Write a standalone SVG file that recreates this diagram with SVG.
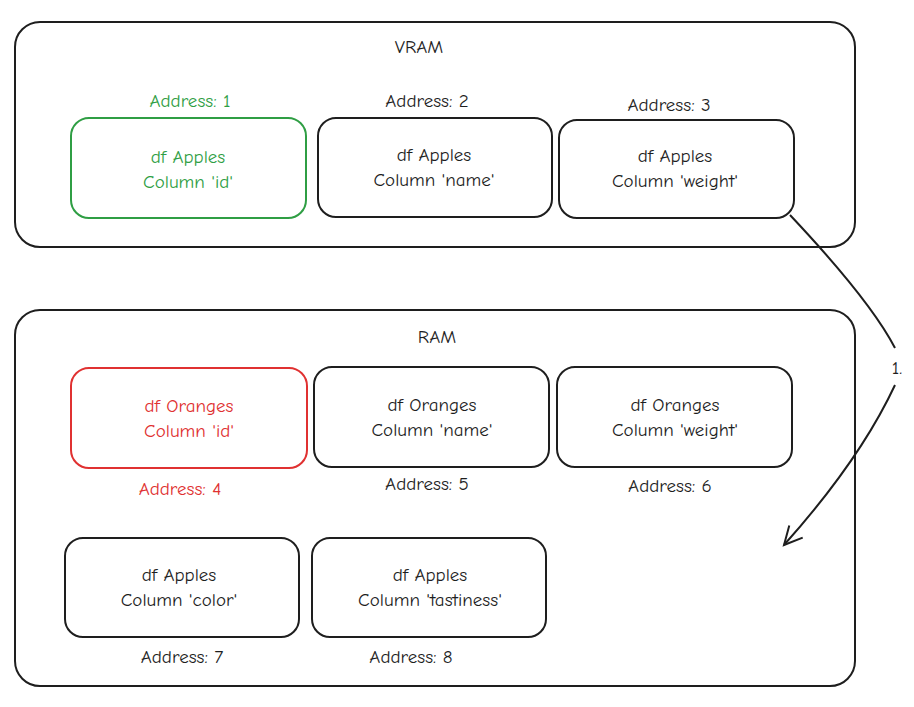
<svg xmlns="http://www.w3.org/2000/svg" width="914" height="707" viewBox="0 0 914 707">
<style>
rect{fill:none;stroke:#1e1e1e;stroke-width:2}
text{font-family:"Comic Neue","Liberation Sans",sans-serif;font-size:19px;fill:#1e1e1e;text-anchor:middle}
.g{fill:#2f9e44}.gs{stroke:#2f9e44}
.r{fill:#e03131}.rs{stroke:#e03131}
</style>
<defs><marker id="a" markerWidth="24" markerHeight="24" refX="20" refY="12" orient="auto" markerUnits="userSpaceOnUse"><path d="M2,3 L20,12 L2,21" fill="none" stroke="#1e1e1e" stroke-width="2"/></marker></defs>
<rect width="914" height="707" style="fill:#fff;stroke:none"/>
<g id="vram"><rect x="15" y="22" width="840" height="225" rx="25"/><text x="419" y="53">VRAM</text></g>
<g id="ram"><rect x="15" y="310" width="840" height="376" rx="25"/><text x="437" y="343">RAM</text></g>
<g id="n1"><rect class="gs" x="71" y="118" width="235" height="100" rx="18"/><text class="g" x="190" y="107">Address: 1</text><text class="g" x="188" y="163">df Apples</text><text class="g" x="188" y="188">Column 'id'</text></g>
<g id="n2"><rect x="318" y="118" width="234" height="99" rx="18"/><text x="427" y="107">Address: 2</text><text x="434" y="161">df Apples</text><text x="434" y="186">Column 'name'</text></g>
<g id="n3"><rect x="559" y="120" width="235" height="98" rx="18"/><text x="669" y="111">Address: 3</text><text x="675" y="162">df Apples</text><text x="675" y="187">Column 'weight'</text></g>
<g id="n4"><rect class="rs" x="71" y="368" width="236" height="100" rx="18"/><text class="r" x="180" y="495">Address: 4</text><text class="r" x="189" y="412">df Oranges</text><text class="r" x="189" y="437">Column 'id'</text></g>
<g id="n5"><rect x="314" y="367" width="235" height="100" rx="18"/><text x="427" y="490">Address: 5</text><text x="432" y="411">df Oranges</text><text x="432" y="436">Column 'name'</text></g>
<g id="n6"><rect x="557" y="367" width="235" height="100" rx="18"/><text x="670" y="492">Address: 6</text><text x="675" y="411">df Oranges</text><text x="675" y="436">Column 'weight'</text></g>
<g id="n7"><rect x="65" y="538" width="234" height="99" rx="18"/><text x="182" y="663">Address: 7</text><text x="179" y="581">df Apples</text><text x="179" y="606">Column 'color'</text></g>
<g id="n8"><rect x="312" y="538" width="234" height="99" rx="18"/><text x="411" y="663">Address: 8</text><text x="430" y="581">df Apples</text><text x="430" y="606">Column 'tastiness'</text></g>
<g id="connectors"><path d="M790,215 Q870,300 895,348 M895,385 Q860,460 784,545" fill="none" stroke="#1e1e1e" stroke-width="2" marker-end="url(#a)"/><text x="897" y="374">1.</text></g>
</svg>
